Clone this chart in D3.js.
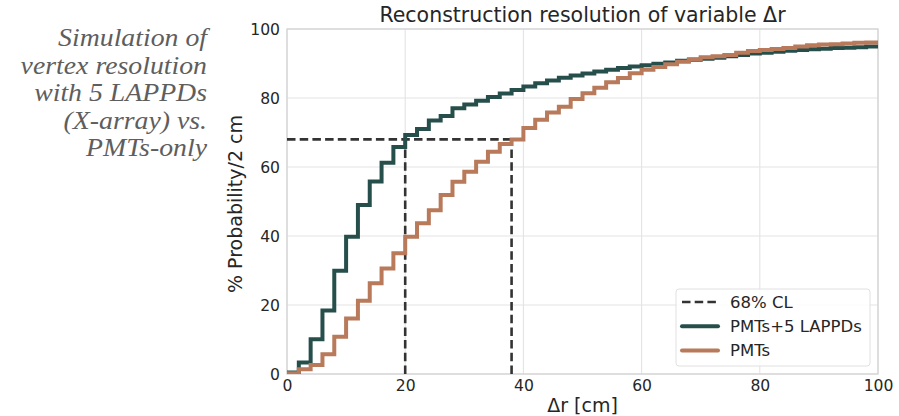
<!DOCTYPE html>
<html>
<head>
<meta charset="utf-8">
<script src="https://cdn.jsdelivr.net/npm/d3@7"></script>
<style>
  html, body { margin: 0; padding: 0; background: #fff; }
  svg { display: block; }
</style>
</head>
<body>
<svg id="chart" width="899" height="416"></svg>
<script>
// Cumulative probability per 2 cm bin of the reconstructed vertex offset Δr
const binEdges = d3.range(0, 101, 2);
const lappdValues = [
  0.4, 3.3, 10.1, 18.4, 29.9, 39.8, 49.0, 55.8, 61.2, 65.8,
  69.3, 71.0, 73.5, 74.8, 77.0, 78.1, 79.2, 80.3, 81.3, 82.3,
  83.3, 84.3, 85.1, 85.9, 86.5, 87.1, 87.7, 88.2, 88.7, 89.1,
  89.5, 89.9, 90.3, 90.8, 91.1, 91.4, 91.7, 92.1, 92.5, 92.9,
  93.1, 93.4, 93.7, 93.9, 94.1, 94.3, 94.5, 94.6, 94.7, 94.9
];
const pmtValues = [
  0.2, 1.4, 2.6, 5.7, 10.8, 16.1, 21.2, 26.3, 30.6, 35.0,
  39.8, 43.7, 47.5, 51.9, 55.7, 58.6, 61.5, 64.4, 66.7, 68.0,
  71.3, 73.7, 75.8, 77.5, 79.7, 81.4, 83.0, 84.6, 85.8, 87.2,
  88.2, 89.0, 89.8, 90.5, 91.2, 91.8, 92.1, 92.5, 93.1, 93.6,
  93.9, 94.2, 94.5, 94.9, 95.3, 95.5, 95.6, 95.8, 96.0, 96.1
];
// 68% confidence level and the Δr where each curve reaches it
const clLevel = 68;
const clCrossings = [20, 38];

const xTicks = [0, 20, 40, 60, 80, 100];
const yTicks = [0, 20, 40, 60, 80, 100];

const seriesNames = ["PMTs+5 LAPPDs", "PMTs"];
const seriesColors = ["#264f4c", "#b87a5a"];
const noteLines = ["Simulation of", "vertex resolution", "with 5 LAPPDs", "(X-array) vs.", "PMTs-only"];

const margin = { left: 287, right: 21, top: 29, bottom: 42 };
const W = 899, H = 416;
const svg = d3.select("#chart");
const font = "DejaVu Sans, sans-serif";
const textColor = "#262626";

const x = d3.scaleLinear().domain([0, 100]).range([margin.left, W - margin.right]);
const y = d3.scaleLinear().domain([0, 100]).range([H - margin.bottom, margin.top]);

svg.append("defs").append("clipPath").attr("id", "plotClip")
  .append("rect")
  .attr("x", x(0)).attr("y", y(100))
  .attr("width", x(100) - x(0)).attr("height", y(0) - y(100));

// grid
const grid = svg.append("g");
grid.selectAll("line.gx").data(xTicks).join("line")
  .attr("x1", d => x(d)).attr("x2", d => x(d))
  .attr("y1", y(0)).attr("y2", y(100))
  .attr("stroke", "#e3e3e3").attr("stroke-width", 1.1);
grid.selectAll("line.gy").data(yTicks).join("line")
  .attr("y1", d => y(d)).attr("y2", d => y(d))
  .attr("x1", x(0)).attr("x2", x(100))
  .attr("stroke", "#e3e3e3").attr("stroke-width", 1.1);

// axes frame
svg.append("rect")
  .attr("x", x(0)).attr("y", y(100))
  .attr("width", x(100) - x(0)).attr("height", y(0) - y(100))
  .attr("fill", "none").attr("stroke", "#d4d4d4").attr("stroke-width", 1.3);

// tick labels via d3 axes (no tick marks, no domain)
const xAxis = svg.append("g")
  .attr("transform", `translate(0,${y(0)})`)
  .call(d3.axisBottom(x).tickValues(xTicks).tickSize(0).tickPadding(6).tickFormat(d3.format("d")));
const yAxis = svg.append("g")
  .attr("transform", `translate(${x(0)},0)`)
  .call(d3.axisLeft(y).tickValues(yTicks).tickSize(0).tickPadding(7).tickFormat(d3.format("d")));
[xAxis, yAxis].forEach(g => {
  g.select(".domain").remove();
  g.selectAll("text")
    .attr("font-family", font).attr("font-size", 15.6).attr("fill", textColor);
});

// step curves
const stepLine = d3.line()
  .x(d => x(d[0])).y(d => y(d[1]))
  .curve(d3.curveStepAfter);
function stepPoints(values) {
  const pts = [[0, 0]];
  values.forEach((v, i) => pts.push([binEdges[i], v]));
  pts.push([binEdges[values.length], values[values.length - 1]]);
  return pts;
}

const plot = svg.append("g").attr("clip-path", "url(#plotClip)");

// 68% CL guide lines
const clPath = d3.line().x(d => x(d[0])).y(d => y(d[1]));
const dash = "8.5,4.2";
plot.append("path")
  .attr("d", clPath([[0, clLevel], [clCrossings[1], clLevel]]))
  .attr("fill", "none").attr("stroke", "#333").attr("stroke-width", 2.6)
  .attr("stroke-dasharray", dash);
clCrossings.forEach(c => {
  plot.append("path")
    .attr("d", clPath([[c, 0], [c, clLevel]]))
    .attr("fill", "none").attr("stroke", "#333").attr("stroke-width", 2.6)
    .attr("stroke-dasharray", dash);
});

[lappdValues, pmtValues].forEach((vals, i) => {
  plot.append("path")
    .attr("d", stepLine(stepPoints(vals)))
    .attr("fill", "none")
    .attr("stroke", seriesColors[i])
    .attr("stroke-width", 4)
    .attr("stroke-linejoin", "miter");
});

// title
svg.append("text")
  .attr("x", (x(0) + x(100)) / 2).attr("y", 22)
  .attr("text-anchor", "middle")
  .attr("font-family", font).attr("font-size", 20.5).attr("fill", textColor)
  .text("Reconstruction resolution of variable Δr");

// axis labels
svg.append("text")
  .attr("x", (x(0) + x(100)) / 2).attr("y", 412)
  .attr("text-anchor", "middle")
  .attr("font-family", font).attr("font-size", 19).attr("fill", textColor)
  .text("Δr [cm]");
svg.append("text")
  .attr("transform", `translate(242,204) rotate(-90)`)
  .attr("text-anchor", "middle")
  .attr("font-family", font).attr("font-size", 19).attr("fill", textColor)
  .text("% Probability/2 cm");

// legend
const legend = svg.append("g");
legend.append("rect")
  .attr("x", 676).attr("y", 289).attr("width", 194).attr("height", 77)
  .attr("rx", 3).attr("fill", "#fff").attr("fill-opacity", 0.85)
  .attr("stroke", "#e0e0e0").attr("stroke-width", 1);
const legendItems = [
  { label: "68% CL", color: "#333", dash: "8.5,4.2", width: 2.6 },
  { label: seriesNames[0], color: seriesColors[0], dash: null, width: 4 },
  { label: seriesNames[1], color: seriesColors[1], dash: null, width: 4 }
];
legendItems.forEach((it, i) => {
  const cy = 302 + i * 24.3;
  legend.append("line")
    .attr("x1", 682).attr("x2", 718).attr("y1", cy).attr("y2", cy)
    .attr("stroke", it.color).attr("stroke-width", it.width)
    .attr("stroke-dasharray", it.dash)
    .attr("stroke-linecap", it.dash ? "butt" : "round");
  legend.append("text")
    .attr("x", 730).attr("y", cy + 5.7)
    .attr("font-family", font).attr("font-size", 16.5).attr("fill", textColor)
    .text(it.label);
});

// side note, right-aligned in tight lines
const noteX = 207, noteScaleX = 1.12;
const note = svg.append("g")
  .attr("transform", `translate(${noteX},0) scale(${noteScaleX},1)`);
noteLines.forEach((t, i) => {
  note.append("text")
    .attr("x", 0).attr("y", 46.5 + i * 27.5)
    .attr("text-anchor", "end")
    .attr("font-family", "Liberation Serif, serif")
    .attr("font-style", "italic")
    .attr("font-size", 24.8)
    .attr("fill", "#5e5e5e")
    .text(t);
});
</script>
</body>
</html>
